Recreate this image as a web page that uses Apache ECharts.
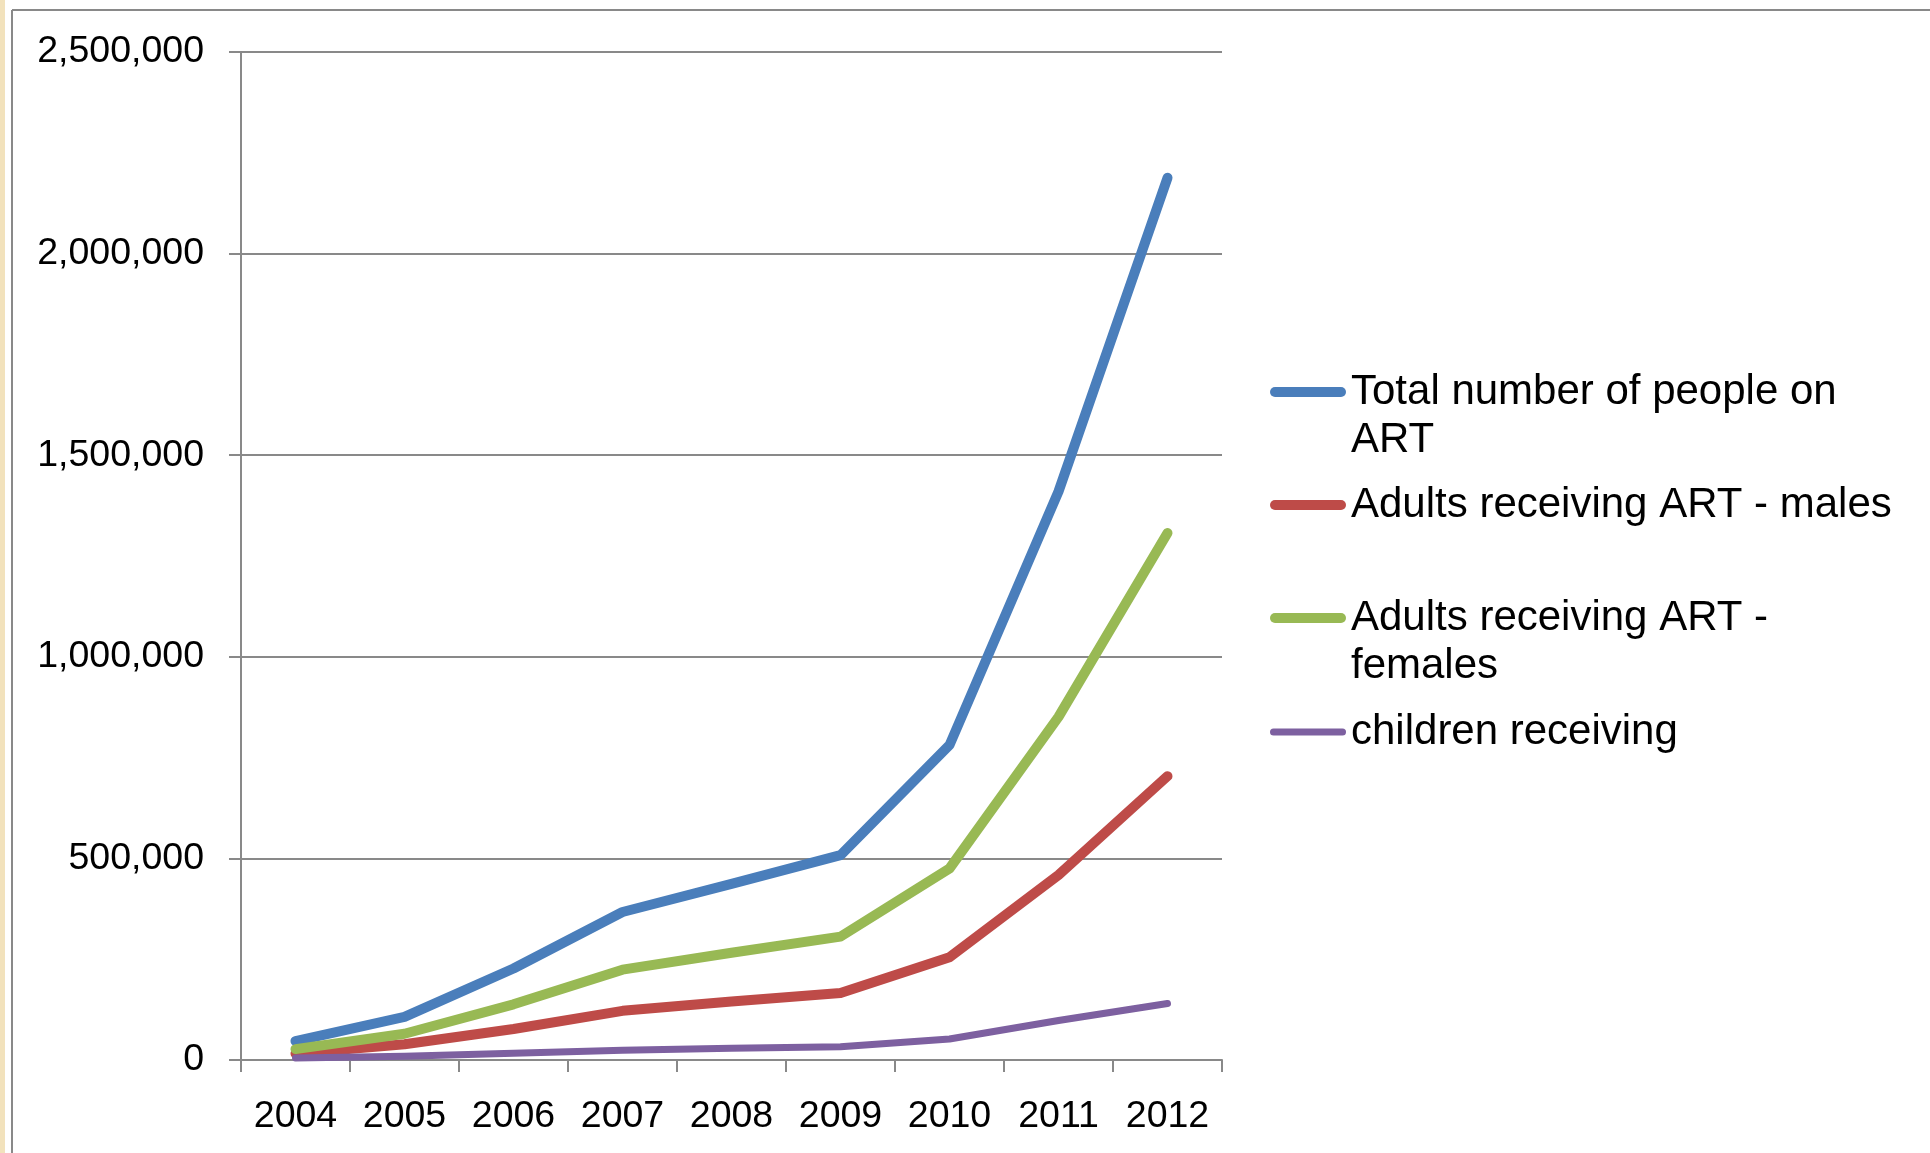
<!DOCTYPE html>
<html>
<head>
<meta charset="utf-8">
<script src="https://cdn.jsdelivr.net/npm/echarts@6/dist/echarts.min.js"></script>
<style>
html,body{margin:0;padding:0;background:#fff;}
#chart{width:1930px;height:1153px;}
</style>
</head>
<body>
<div id="chart"></div>
<script>
const years = ['2004','2005','2006','2007','2008','2009','2010','2011','2012'];
const totalOnArt = [47000, 107000, 227000, 367000, 437000, 508000, 781000, 1410000, 2188000];
const adultsMales = [16000, 39000, 77000, 122000, 145000, 166000, 255000, 459000, 704000];
const adultsFemales = [27000, 65000, 138000, 224000, 266000, 306000, 475000, 851000, 1307000];
const childrenReceiving = [5000, 9000, 17000, 24000, 29000, 33000, 52000, 98000, 140000];
const seriesNames = ['Total number of people on ART','Adults receiving ART - males','Adults receiving ART - females','children receiving'];
const legendLabels = ['\nTotal number of people on\nART','Adults receiving ART - males','\nAdults receiving ART -\nfemales','children receiving'];
const yTicks = [0, 500000, 1000000, 1500000, 2000000, 2500000];

const colors = ['#4A7EBB','#BE4B48','#98B954','#7D60A0'];
const widths = [10, 10, 10, 7];
const seriesData = [totalOnArt, adultsMales, adultsFemales, childrenReceiving];

const FONT = '"Liberation Sans", Arial, sans-serif';
const GRAY = '#898989';

function legendFor(i, iconY, twoLine) {
  const lh = 48;
  const h = widths[i];
  return {
    data: [seriesNames[i]],
    left: 1270,
    top: twoLine ? iconY - lh * 1.5 : iconY - lh / 2,
    padding: 0,
    orient: 'vertical',
    itemWidth: 76,
    itemHeight: h,
    icon: 'path://M' + (h/2) + ',0 L' + (76 - h/2) + ',0 A' + (h/2) + ',' + (h/2) + ' 0 0 1 ' + (76 - h/2) + ',' + h + ' L' + (h/2) + ',' + h + ' A' + (h/2) + ',' + (h/2) + ' 0 0 1 ' + (h/2) + ',0 Z',
    itemStyle: { borderWidth: 0 },
    selectedMode: false,
    formatter: function () { return legendLabels[i]; },
    textStyle: {
      fontFamily: FONT,
      fontSize: 42,
      color: '#000',
      lineHeight: lh
    }
  };
}

const chart = echarts.init(document.getElementById('chart'), null, {renderer: 'canvas'});
chart.setOption({
  animation: false,
  backgroundColor: '#fff',
  graphic: [
    { type: 'rect', shape: {x: 0, y: 0, width: 5, height: 1153}, style: {fill: '#F2E2BC'}, silent: true },
    { type: 'line', shape: {x1: 12, y1: 10, x2: 12, y2: 1153}, style: {stroke: GRAY, lineWidth: 2}, silent: true },
    { type: 'line', shape: {x1: 12, y1: 10, x2: 1930, y2: 10}, style: {stroke: GRAY, lineWidth: 2}, silent: true }
  ],
  grid: { left: 241, top: 52, width: 981, bottom: 93, containLabel: false },
  legend: [
    legendFor(0, 392, true),
    legendFor(1, 505, false),
    legendFor(2, 618, true),
    legendFor(3, 732, false)
  ],
  xAxis: {
    type: 'category',
    data: years,
    boundaryGap: true,
    axisLine: { show: true, lineStyle: { color: GRAY, width: 2 } },
    axisTick: { show: true, length: 12, inside: false, alignWithLabel: false, lineStyle: { color: GRAY, width: 2 } },
    axisLabel: { fontFamily: FONT, fontSize: 37.5, color: '#000', margin: 38, interval: 0 },
    splitLine: { show: false }
  },
  yAxis: {
    type: 'value',
    min: 0,
    max: 2500000,
    interval: 500000,
    axisLine: { show: true, lineStyle: { color: GRAY, width: 2 } },
    axisTick: { show: true, length: 12, inside: false, lineStyle: { color: GRAY, width: 2 } },
    axisLabel: {
      fontFamily: FONT, fontSize: 37.5, color: '#000', margin: 37,
      padding: [5, 0, 0, 0],
      formatter: function (v) { return yTicks.indexOf(v) >= 0 ? v.toLocaleString('en-US') : ''; }
    },
    splitLine: { show: true, lineStyle: { color: GRAY, width: 2 } }
  },
  series: seriesData.map(function (d, i) {
    return {
      name: seriesNames[i],
      type: 'line',
      data: d,
      symbol: 'none',
      showSymbol: false,
      color: colors[i],
      itemStyle: { color: colors[i] },
      lineStyle: { color: colors[i], width: widths[i], cap: 'round', join: 'round' },
      z: 2 + i
    };
  })
});
</script>
</body>
</html>
